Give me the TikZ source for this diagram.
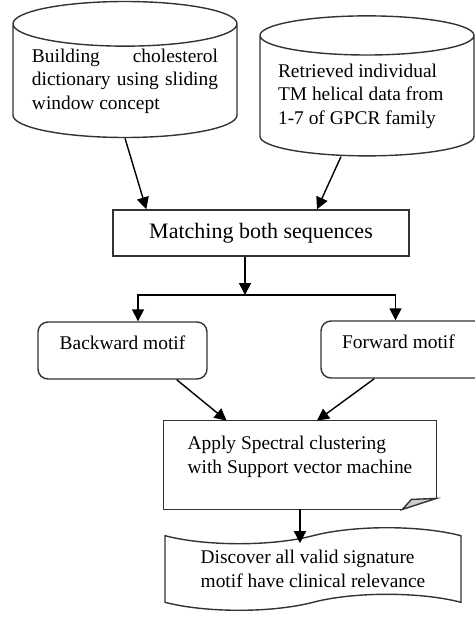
\documentclass[tikz,border=0pt]{standalone}
\usepackage{fontspec}
\setmainfont{Liberation Serif}
\usepackage{tikz}
\usetikzlibrary{shapes.geometric, shapes.symbols, arrows.meta}

\begin{document}
\begin{tikzpicture}[x=0.5pt, y=-0.5pt, font=\fontsize{9.7pt}{11.8pt}\selectfont]
% Define styles
\tikzstyle{database} = [cylinder, shape border rotate=90, draw=black!80, line width=0.7pt, inner sep=0pt]
\tikzstyle{process} = [rectangle, draw=black!80, line width=0.7pt, align=center, font=\fontsize{11pt}{13pt}\selectfont]
\tikzstyle{motif} = [rectangle, rounded corners=5pt, draw=black!80, line width=0.7pt, minimum height=28.5pt, text depth=7.5pt]
\tikzstyle{note} = [rectangle, align=left, minimum width=136pt, minimum height=44pt, text depth=10pt]
\tikzstyle{output} = [tape, draw=black!80, line width=0.7pt, align=left, minimum width=148pt, minimum height=40pt, tape bend height=8pt]
\tikzstyle{arrow} = [line width=0.7pt, -{Triangle[length=6pt, width=6pt]}]
\useasboundingbox (0,0) rectangle (475,618);
% Place nodes
\node (chol) [database, minimum width=112pt, minimum height=68pt, shape aspect=0.24, text width=93pt, align=justify] at (125,81) {Building cholesterol dictionary using sliding window concept};
\node (gpcr) [database, minimum width=107pt, minimum height=70pt, shape aspect=0.22, align=left] at (367,96) {Retrieved individual\\TM helical data from\\1-7 of GPCR family\hspace*{10pt}};
\node (match) [process, minimum width=148pt, minimum height=23pt] at (261,233) {Matching both sequences};
\node (back) [motif, minimum width=84.5pt] at (122.5,350.5) {Backward motif};
\node (forward) [motif, minimum width=84.5pt] at (405.5,349.5) {Forward motif\hspace*{7pt}};
\node (apply) [note] at (300,465) {Apply Spectral clustering\\with Support vector machine};
\node (disc) [output] at (313,569) {Discover all valid signature\\motif have clinical relevance};
\coordinate (split) at (245,295);
% Outline of the note with folded corner
\draw [line width=0.7pt, draw=black!80] ([xshift=-17pt]apply.south east) -- (apply.south west) -- (apply.north west) -- (apply.north east) -- ([yshift=5.5pt]apply.south east);
\draw [line width=0.7pt, draw=black!80, fill=gray!40] ([xshift=-17pt]apply.south east) -- ([xshift=-12.5pt, yshift=5pt]apply.south east) -- ([yshift=5.5pt]apply.south east) -- cycle;
% Draw arrows
\draw [arrow] (chol.south) -- ([xshift=17pt]match.north west);
\draw [arrow] ([xshift=-13pt]gpcr.south) -- ([xshift=28pt]match.north);
\draw [arrow] ([xshift=-8pt]match.south) -- (split);
\draw [arrow] (split) -| ([xshift=7.75pt]back.north);
\draw [arrow] (split) -| ([xshift=-5pt]forward.north);
\draw [arrow] ([xshift=-15.5pt]back.south east) -- ([xshift=31.5pt]apply.north west);
\draw [arrow] ([xshift=27pt]forward.south west) -- ([xshift=8.5pt]apply.north);
\draw [arrow] (apply.south) -- ([yshift=-4pt]apply.south |- disc.north);
\end{tikzpicture}
\end{document}
